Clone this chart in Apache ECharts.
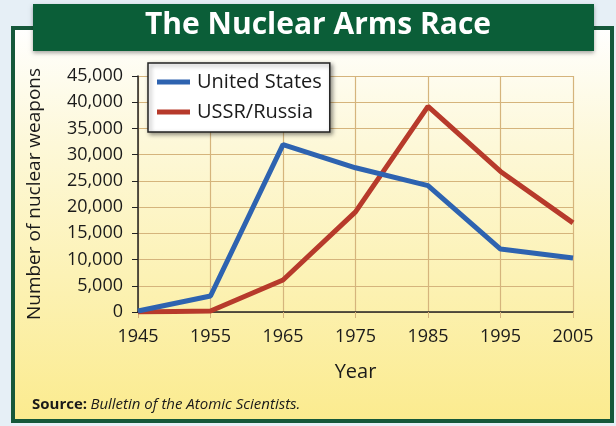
<!DOCTYPE html>
<html>
<head>
<meta charset="utf-8">
<script src="https://cdn.jsdelivr.net/npm/echarts@6/dist/echarts.min.js"></script>
<style>
  html, body { margin: 0; padding: 0; background: #e6eff6; }
  #main { width: 616px; height: 426px; }
</style>
</head>
<body>
<div id="main"></div>
<script>
const years = ["1945", "1955", "1965", "1975", "1985", "1995", "2005"];
const usWeapons = [200, 3050, 31900, 27500, 24100, 12000, 10300];
const ussrWeapons = [0, 200, 6100, 19100, 39200, 26800, 17000];
const seriesNames = ["United States", "USSR/Russia"];

const FONT = "Open Sans";
const myChart = echarts.init(document.getElementById("main"));

const option = {
  backgroundColor: "#e6eff6",
  animation: false,
  textStyle: { fontFamily: FONT, color: "#1a1a1a" },
  graphic: [
    // framed panel
    {
      type: "rect",
      z: -10,
      shape: { x: 13, y: 28, width: 599, height: 393 },
      style: {
        fill: new echarts.graphic.LinearGradient(0, 0, 0, 1, [
          { offset: 0, color: "#ffffff" },
          { offset: 0.3, color: "#fdf8d8" },
          { offset: 1, color: "#fbeb8e" },
        ]),
        stroke: "#15583a",
        lineWidth: 4,
      },
    },
    // title banner
    {
      type: "rect",
      z: -5,
      shape: { x: 33, y: 4, width: 561, height: 47 },
      style: {
        fill: "#0b5e38",
        shadowBlur: 4,
        shadowOffsetY: 2,
        shadowColor: "rgba(0,0,0,0.35)",
      },
    },
    {
      type: "text",
      left: 32,
      top: 397,
      style: {
        text: "{b|Source:} {i|Bulletin of the Atomic Scientists.}",
        rich: {
          b: { fontFamily: FONT, fontWeight: "bold", fontSize: 15, fill: "#1a1a1a" },
          i: { fontFamily: FONT, fontStyle: "italic", fontSize: 15, fill: "#1a1a1a" },
        },
      },
    },
  ],
  title: {
    text: "The Nuclear Arms Race",
    left: 313,
    textAlign: "center",
    top: 5,
    textStyle: { color: "#ffffff", fontSize: 30, fontWeight: "bold", fontFamily: FONT },
  },
  legend: {
    data: seriesNames,
    orient: "vertical",
    left: 148,
    top: 63,
    padding: [9, 8, 10, 9],
    itemGap: 10,
    itemWidth: 33,
    itemHeight: 5,
    icon: "rect",
    backgroundColor: "#ffffff",
    borderColor: "#222222",
    borderWidth: 1.5,
    shadowBlur: 4,
    shadowOffsetX: 2,
    shadowOffsetY: 2,
    shadowColor: "rgba(0,0,0,0.4)",
    textStyle: { fontSize: 20, fontFamily: FONT, color: "#1a1a1a", padding: [0, 0, 0, 2] },
  },
  grid: { left: 138, right: 43, top: 76, bottom: 114 },
  xAxis: {
    type: "category",
    data: years,
    boundaryGap: false,
    name: "Year",
    nameLocation: "middle",
    nameGap: 50,
    nameTextStyle: { fontSize: 20, color: "#1a1a1a" },
    axisLine: { lineStyle: { color: "#222222", width: 1.5 } },
    axisTick: { show: true, length: 6, lineStyle: { color: "#d5b47c" } },
    axisLabel: { fontSize: 18, color: "#1a1a1a", margin: 16 },
    splitLine: { show: true, lineStyle: { color: "#d5b47c", width: 1.2 } },
  },
  yAxis: {
    type: "value",
    min: 0,
    max: 45000,
    interval: 5000,
    name: "Number of nuclear weapons",
    nameLocation: "middle",
    nameGap: 94,
    nameTextStyle: { fontSize: 19, color: "#1a1a1a" },
    axisLine: { show: true, lineStyle: { color: "#222222", width: 1.5 } },
    axisTick: { show: true, length: 6, lineStyle: { color: "#222222" } },
    axisLabel: {
      fontSize: 18,
      color: "#1a1a1a",
      margin: 15,
      formatter: (v) => v.toLocaleString("en-US"),
    },
    splitLine: { show: true, lineStyle: { color: "#d5b47c", width: 1.2 } },
  },
  series: [
    {
      name: seriesNames[0],
      type: "line",
      data: usWeapons,
      showSymbol: false,
      color: "#2e63b0",
      lineStyle: { width: 5, color: "#2e63b0" },
      z: 3,
    },
    {
      name: seriesNames[1],
      type: "line",
      data: ussrWeapons,
      showSymbol: false,
      color: "#b73a2b",
      lineStyle: { width: 5, color: "#b73a2b" },
      z: 2,
    },
  ],
};

myChart.setOption(option);
</script>
</body>
</html>
